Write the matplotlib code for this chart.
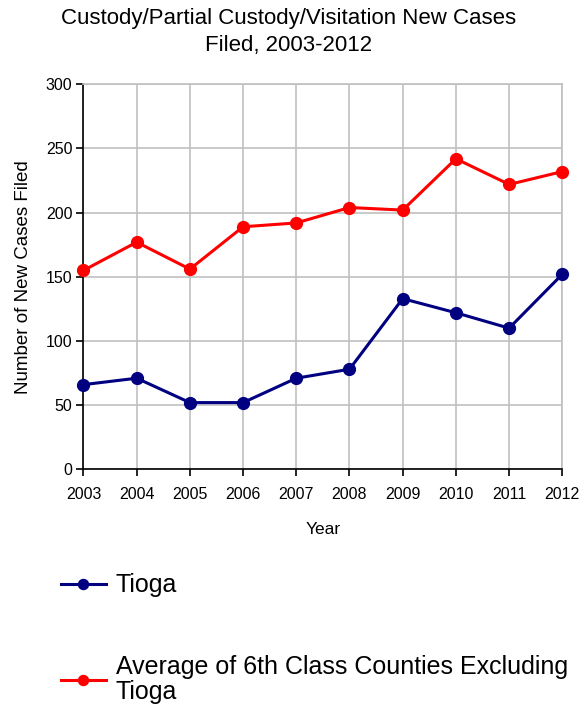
import matplotlib.pyplot as plt
import numpy as np

plt.rcParams["font.family"] = ["Liberation Sans", "DejaVu Sans"]

years = [2003, 2004, 2005, 2006, 2007, 2008, 2009, 2010, 2011, 2012]
tioga = [66, 71, 52, 52, 71, 78, 133, 122, 110, 152]
avg_6th_class = [155, 177, 156, 189, 192, 204, 202, 242, 222, 232]

fig = plt.figure(figsize=(5.83, 7.08), dpi=100)
ax = fig.add_axes([0.1432, 0.3371, 0.8213, 0.5438])

ax.plot(years, tioga, color="#000080", lw=2.2, marker="o", ms=8.5,
        label="Tioga", clip_on=False, zorder=3)
ax.plot(years, avg_6th_class, color="#ff0000", lw=2.2, marker="o", ms=8.5,
        label="Average of 6th Class Counties Excluding\nTioga", clip_on=False, zorder=3)

ax.set_xlim(2003, 2012)
ax.set_ylim(0, 300)
ax.set_xticks(years)
ax.set_yticks(np.arange(0, 301, 50))
ax.grid(True, color="#c0c0c0", lw=1.2)
ax.set_axisbelow(True)
for s in ["top", "right"]:
    ax.spines[s].set_color("#c0c0c0")
    ax.spines[s].set_linewidth(1.2)
for s in ["left", "bottom"]:
    ax.spines[s].set_color("black")
    ax.spines[s].set_linewidth(1.2)
ax.tick_params(direction="out", length=5, width=1.2, labelsize=11.5, pad=3)
ax.tick_params(axis="x", pad=8)

ax.set_xlabel("Year", fontsize=12.5, labelpad=14)
ax.set_ylabel("Number of New Cases Filed", fontsize=13.5, labelpad=10)

fig.text(0.495, 0.988, "Custody/Partial Custody/Visitation New Cases\nFiled, 2003-2012",
         ha="center", va="top", fontsize=16, linespacing=1.35)

leg = fig.legend(loc="upper left", bbox_to_anchor=(0.066, 0.222), frameon=False,
                 fontsize=18, labelspacing=2.3, handlelength=1.8, handletextpad=0.4,
                 markerscale=0.85)
for t in leg.get_texts():
    t.set_linespacing(1.05)

fig.savefig("out.png", dpi=100)
